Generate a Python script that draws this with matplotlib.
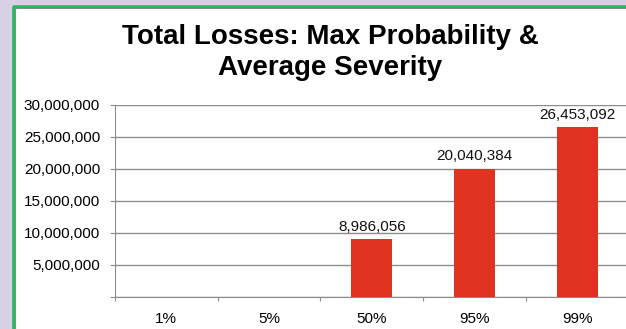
import matplotlib.pyplot as plt
from matplotlib.patches import Rectangle
from matplotlib.ticker import FuncFormatter

categories = ["1%", "5%", "50%", "95%", "99%"]
losses = [0, 0, 8986056, 20040384, 26453092]

plt.rcParams["font.family"] = ["Liberation Sans", "DejaVu Sans"]

W, H = 626, 329
fig = plt.figure(figsize=(W / 100, H / 100), dpi=100)
fig.patch.set_facecolor("#d9cfe6")

# white panel with green frame
fig.patches.append(Rectangle((13 / W, 0), 1, 1 - 6 / H, transform=fig.transFigure,
                             facecolor="white", edgecolor="none", zorder=-5))
fig.lines.append(plt.Line2D([13.5 / W, 13.5 / W, 1], [0, 1 - 6.5 / H, 1 - 6.5 / H],
                            transform=fig.transFigure, color="#1fbf5a", lw=2.6, zorder=-4))
fig.lines.append(plt.Line2D([15.2 / W, 15.2 / W, 1], [0, 1 - 8.2 / H, 1 - 8.2 / H],
                            transform=fig.transFigure, color="#7f8f86", lw=0.8, zorder=-4))

ax = fig.add_axes([114.7 / W, 32 / H, 514.3 / W, 192.3 / H])
ax.set_facecolor("none")

x = range(len(categories))
bars = ax.bar(x, losses, width=0.4, color="#e03220", zorder=3)
for xi, v in zip(x, losses):
    if v > 0:
        ax.annotate(f"{v:,}", (xi, v), xytext=(0, 4), textcoords="offset points",
                    ha="center", va="bottom", fontsize=11, color="#111111")

ax.set_xlim(-0.5, len(categories) - 0.5)
ax.set_ylim(0, 30000000)
ax.set_yticks(range(0, 30000001, 5000000))
ax.yaxis.set_major_formatter(FuncFormatter(lambda v, p: f"{int(v):,}" if v > 0 else ""))
ax.grid(axis="y", color="#8c8c8c", lw=1, zorder=1)

ax.set_xticks([i - 0.5 for i in range(len(categories) + 1)])
ax.set_xticklabels([])
ax.set_xticks(list(x), minor=True)
ax.set_xticklabels(categories, minor=True, fontsize=11)
ax.tick_params(axis="x", which="major", length=3, color="#8c8c8c")
ax.tick_params(axis="x", which="minor", length=0, pad=11)
ax.tick_params(axis="y", length=3.5, color="#8c8c8c", labelsize=11, pad=7)

for side in ["top", "right"]:
    ax.spines[side].set_visible(False)
for side in ["left", "bottom"]:
    ax.spines[side].set_color("#8c8c8c")

fig.text(330 / W, 1 - 37 / H, "Total Losses: Max Probability &", ha="center", va="center",
         fontsize=20, fontweight="bold")
fig.text(330 / W, 1 - 68 / H, "Average Severity", ha="center", va="center",
         fontsize=20, fontweight="bold")

fig.savefig("out.png", dpi=100, facecolor=fig.get_facecolor())
